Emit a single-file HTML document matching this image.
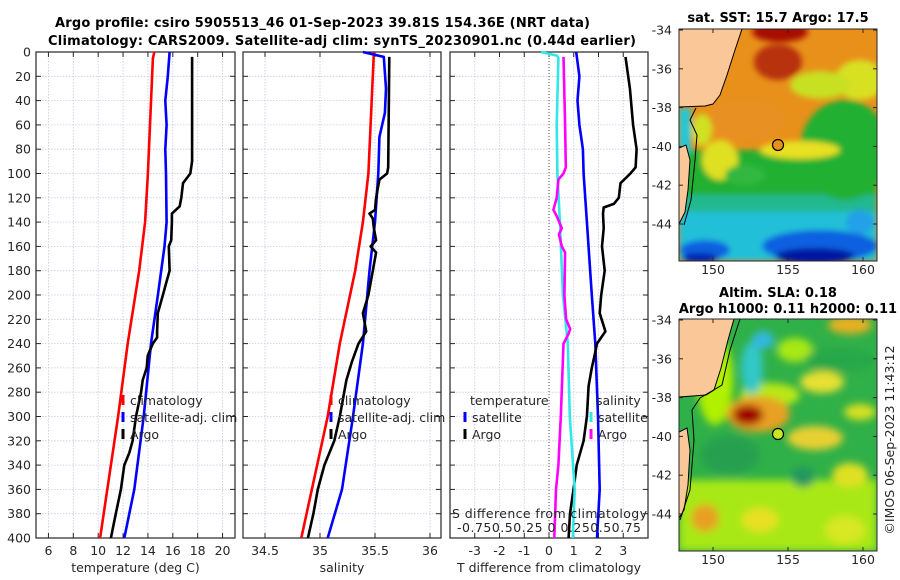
<!DOCTYPE html>
<html><head><meta charset="utf-8">
<style>
html,body{margin:0;padding:0;background:#fff;}
svg{display:block;font-family:"DejaVu Sans","Liberation Sans",sans-serif;}
.tk{font-size:12.5px;fill:#262626;}
.tt{font-size:13px;font-weight:bold;fill:#000;}
</style></head>
<body>
<svg id="fig" width="900" height="580" viewBox="0 0 900 580" xmlns="http://www.w3.org/2000/svg">
<defs>
<filter id="bl" x="-10%" y="-10%" width="120%" height="120%"><feGaussianBlur stdDeviation="3"/></filter>
<filter id="bl2" x="-10%" y="-10%" width="120%" height="120%"><feGaussianBlur stdDeviation="4"/></filter>
<clipPath id="c1"><rect x="679" y="29" width="198" height="232"/></clipPath>
<clipPath id="c2"><rect x="679" y="319" width="198" height="232"/></clipPath>
</defs>
<text class="tt" x="55" y="27" textLength="535">Argo profile: csiro 5905513_46 01-Sep-2023 39.81S 154.36E (NRT data)</text>
<text class="tt" x="48" y="45" textLength="588">Climatology: CARS2009. Satellite-adj clim: synTS_20230901.nc (0.44d earlier)</text>

<!-- SST map -->
<g>
<g clip-path="url(#c1)">
<rect x="679" y="29" width="198" height="232" fill="#e8901a"/>
<g filter="url(#bl)">
<rect x="679" y="150" width="198" height="111" fill="#20b030"/>
<rect x="679" y="195" width="198" height="66" fill="#20b890"/>
<rect x="679" y="212" width="198" height="49" fill="#20c0d8"/>
<ellipse cx="780" cy="32" rx="28" ry="10" fill="#a80800"/>
<ellipse cx="778" cy="62" rx="24" ry="18" fill="#b83010"/>
<ellipse cx="860" cy="80" rx="25" ry="20" fill="#d8e020"/>
<ellipse cx="820" cy="85" rx="30" ry="14" fill="#c8e020"/>
<ellipse cx="845" cy="150" rx="45" ry="50" fill="#20b030"/>
<ellipse cx="800" cy="150" rx="40" ry="9" fill="#e8e020"/>
<ellipse cx="745" cy="120" rx="40" ry="22" fill="#e89020"/>
<ellipse cx="720" cy="160" rx="18" ry="20" fill="#e0e020"/>
<ellipse cx="745" cy="175" rx="20" ry="10" fill="#30b840"/>
<ellipse cx="702" cy="130" rx="10" ry="16" fill="#d0e020"/>
<ellipse cx="820" cy="246" rx="58" ry="16" fill="#1060e0"/>
<ellipse cx="815" cy="256" rx="40" ry="8" fill="#0018a0"/>
<ellipse cx="705" cy="250" rx="25" ry="10" fill="#1060e0"/>
<ellipse cx="700" cy="258" rx="18" ry="5" fill="#0020b0"/>
<ellipse cx="860" cy="222" rx="14" ry="12" fill="#20a0e8"/>
<rect x="679" y="108" width="12" height="45" fill="#20c8d8"/>
</g>
<polygon points="679,29 742,29 735,50 727,75 720,95 713,104 705,106 679,107" fill="#fac898" stroke="#000" stroke-width="1"/>
<polygon points="679,148 686,145 690,160 688,190 685,212 679,224" fill="#fac898" stroke="#000" stroke-width="1"/>
<path d="M696,108 L690,120 L697,135 L695,160 L691,200 L684,225" fill="none" stroke="#000" stroke-width="1"/>
</g>
<rect x="679" y="29" width="198" height="232" fill="none" stroke="#262626" stroke-width="1"/>
<circle cx="778" cy="145" r="5.5" fill="#e8901a" stroke="#000" stroke-width="1.2"/>
<text class="tt" x="778" y="22" text-anchor="middle">sat. SST: 15.7 Argo: 17.5</text>
</g>

<!-- SLA map -->
<g>
<g clip-path="url(#c2)">
<rect x="679" y="319" width="198" height="232" fill="#30b048"/>
<g filter="url(#bl2)">
<rect x="679" y="480" width="198" height="71" fill="#a8e818"/>
<ellipse cx="715" cy="380" rx="18" ry="45" fill="#b0f000"/>
<ellipse cx="770" cy="395" rx="30" ry="12" fill="#b8e818"/>
<ellipse cx="850" cy="325" rx="22" ry="9" fill="#e8b020"/>
<ellipse cx="822" cy="382" rx="22" ry="11" fill="#e8e030"/>
<ellipse cx="815" cy="438" rx="28" ry="12" fill="#e8d030"/>
<ellipse cx="860" cy="412" rx="16" ry="8" fill="#d8e020"/>
<ellipse cx="758" cy="414" rx="32" ry="18" fill="#e8a020"/>
<ellipse cx="748" cy="415" rx="15" ry="10" fill="#a00000"/>
<ellipse cx="752" cy="368" rx="11" ry="26" fill="#30c8c8"/>
<ellipse cx="763" cy="340" rx="11" ry="9" fill="#30b8e0"/>
<ellipse cx="730" cy="455" rx="30" ry="20" fill="#28a050"/>
<ellipse cx="803" cy="477" rx="12" ry="10" fill="#209860"/>
<ellipse cx="705" cy="518" rx="14" ry="14" fill="#e8a020"/>
<ellipse cx="760" cy="520" rx="18" ry="12" fill="#e8e020"/>
<ellipse cx="845" cy="530" rx="20" ry="14" fill="#d8e820"/>
<ellipse cx="850" cy="475" rx="18" ry="12" fill="#e0e020"/>
<ellipse cx="795" cy="350" rx="18" ry="12" fill="#a8e818"/>
<ellipse cx="840" cy="360" rx="35" ry="12" fill="#28a848"/>
</g>
<polygon points="679,319 734,319 728,340 721,368 714,390 706,395 679,397" fill="#fac898" stroke="#000" stroke-width="1"/>
<polygon points="679,432 687,428 690,450 688,485 684,510 679,518" fill="#fac898" stroke="#000" stroke-width="1"/>
<path d="M740,319 L730,350 L722,385 L700,398 L692,410 L694,440 L690,490 L680,520" fill="none" stroke="#000" stroke-width="1"/>
</g>
<rect x="679" y="319" width="198" height="232" fill="none" stroke="#262626" stroke-width="1"/>
<circle cx="778" cy="434" r="5.5" fill="#c8e820" stroke="#000" stroke-width="1.2"/>
<text class="tt" x="778" y="297" text-anchor="middle">Altim. SLA: 0.18</text>
<text class="tt" x="788" y="313" text-anchor="middle">Argo h1000: 0.11 h2000: 0.11</text>
</g>
<text class="tk" transform="translate(894,440) rotate(-90)" text-anchor="middle">©IMOS 06-Sep-2023 11:43:12</text>
<g id="dyn"></g>
</svg>
<script>
// ---- data ----
const depthTicks = [0,20,40,60,80,100,120,140,160,180,200,220,240,260,280,300,320,340,360,380,400];
const tempTicks = [6,8,10,12,14,16,18,20];
const salTicks = [34.5,35,35.5,36];
const tdiffTicks = [-3,-2,-1,0,1,2,3];
const latTicks = [-34,-36,-38,-40,-42,-44];
const lonTicks = [150,155,160];

const tClimDepth = [0,5,100,140,180,240,300,400];
const tClimVal = [14.52,14.4,14.0,13.77,13.3,12.37,11.6,10.15];
const tSatDepth = [0,20,40,60,80,100,140,160,200,240,300,360,400];
const tSatVal = [15.74,15.6,15.4,15.5,15.4,15.45,15.5,15.33,14.8,14.25,13.66,12.9,12.1];
const tArgoDepth = [4,90,100,108,120,127,133,140,155,160,180,190,200,215,230,235,240,250,260,270,280,300,320,330,340,360,380,400];
const tArgoVal = [17.55,17.55,17.41,16.82,16.68,16.55,15.93,15.93,15.87,15.68,15.74,15.47,15.2,14.79,14.74,14.74,14.39,13.98,13.9,13.58,13.45,13.04,12.77,12.5,12.1,11.83,11.42,11.02];

const sClimDepth = [0,20,100,140,180,240,300,400];
const sClimVal = [35.49,35.48,35.44,35.39,35.32,35.18,35.07,34.83];
const sSatDepth = [0,4,30,50,70,100,140,180,240,300,360,400];
const sSatVal = [35.39,35.58,35.60,35.59,35.54,35.53,35.50,35.45,35.39,35.30,35.20,35.07];
const sArgoDepth = [4,95,100,105,120,130,133,137,145,155,160,165,180,200,215,230,240,255,270,300,320,340,360,380,400];
const sArgoVal = [35.63,35.62,35.61,35.54,35.51,35.50,35.45,35.48,35.49,35.51,35.46,35.51,35.48,35.44,35.39,35.42,35.35,35.29,35.24,35.18,35.13,35.04,34.98,34.94,34.89];

const dTSatDepth = [0,20,40,60,80,100,140,200,240,300,360,400];
const dTSatVal = [1.10,1.23,1.15,1.23,1.37,1.40,1.53,1.73,1.87,1.98,2.05,1.94];
const dTArgoDepth = [4,30,60,80,95,100,108,120,125,128,133,145,160,180,200,215,230,240,250,260,275,300,320,340,360,380,400];
const dTArgoVal = [3.09,3.27,3.40,3.54,3.50,3.29,2.89,2.82,2.62,2.21,2.18,2.21,2.14,2.25,2.11,2.05,2.28,1.94,1.84,1.73,1.60,1.53,1.40,1.12,0.99,0.85,0.79];
const dSSatDepth = [0,3,5,60,100,140,200,240,300,360,400];
const dSSatVal = [-0.08,0.08,0.095,0.078,0.085,0.11,0.14,0.19,0.21,0.26,0.24];
const dSArgoDepth = [4,60,95,100,105,120,130,135,145,150,160,165,200,220,228,232,240,300,340,360,400];
const dSArgoVal = [0.146,0.163,0.17,0.146,0.095,0.078,0.044,0.078,0.129,0.10,0.129,0.163,0.156,0.173,0.214,0.197,0.146,0.119,0.095,0.071,0.054];

// ---- layout ----
const NS = 'http://www.w3.org/2000/svg';
const root = document.getElementById('dyn');
const TOP = 52, BOT = 538;
const yD = d => TOP + d * (BOT - TOP) / 400;
function lin(d0, d1, r0, r1) { return v => r0 + (v - d0) * (r1 - r0) / (d1 - d0); }
function mk(tag, attrs, parent) {
  const e = document.createElementNS(NS, tag);
  for (const k in attrs) e.setAttribute(k, attrs[k]);
  (parent || root).appendChild(e);
  return e;
}
function panel(name, L, R, xf, xt, xfmt, xlabel) {
  const g = mk('g', {});
  
  
  depthTicks.forEach(d => {
    mk('line', {x1: L, x2: R, y1: yD(d), y2: yD(d), stroke: '#c4cbe6', 'stroke-width': 0.8, 'stroke-dasharray': '1.5,1.5'}, g);
    mk('line', {x1: L, x2: L + 5, y1: yD(d), y2: yD(d), stroke: '#262626'}, g);
    mk('line', {x1: R - 5, x2: R, y1: yD(d), y2: yD(d), stroke: '#262626'}, g);
  });
  xt.forEach(v => {
    const x = xf(v);
    mk('line', {x1: x, x2: x, y1: TOP, y2: BOT, stroke: '#c4cbe6', 'stroke-width': 0.8, 'stroke-dasharray': '1.5,1.5'}, g);
    mk('line', {x1: x, x2: x, y1: TOP, y2: TOP + 5, stroke: '#262626'}, g);
    mk('line', {x1: x, x2: x, y1: BOT - 5, y2: BOT, stroke: '#262626'}, g);
    const t = mk('text', {x: x, y: 555, 'text-anchor': 'middle', class: 'tk'}, g);
    t.textContent = xfmt(v);
  });
  mk('rect', {x: L, y: TOP, width: R - L, height: BOT - TOP, fill: 'none', stroke: '#262626', 'stroke-width': 1.2}, g);
  const xl = mk('text', {x: (L + R) / 2, y: 572, 'text-anchor': 'middle', class: 'tk'}, g);
  xl.textContent = xlabel;
  return g;
}
function series(g, name, depths, vals, xf, color) {
  const pts = depths.map((d, i) => xf(vals[i]).toFixed(1) + ',' + yD(d).toFixed(1)).join(' ');
  const p = mk('polyline', {points: pts, fill: 'none', stroke: color, 'stroke-width': 2.6, 'stroke-linejoin': 'round'}, g);
  
  
}
function legendEntry(g, name, x, y, color, label) {
  const e = mk('g', {}, g);
  
  
  mk('line', {x1: x, x2: x, y1: y - 10, y2: y, stroke: color, 'stroke-width': 3}, e);
  const t = mk('text', {x: x + 7, y: y, class: 'tk', 'font-size': '13px'}, e);
  t.textContent = label;
}

// y labels
depthTicks.forEach(d => {
  const t = mk('text', {x: 31, y: yD(d) + 4.5, 'text-anchor': 'end', class: 'tk'});
  
  
  t.textContent = d;
});

// panel 1
const xT = lin(5, 21, 36, 235);
const p1 = panel('temperature-panel', 36, 235, xT, tempTicks, v => String(v), 'temperature (deg C)');
series(p1, 'temperature-climatology-line', tClimDepth, tClimVal, xT, '#ff0000');
series(p1, 'temperature-satellite-line', tSatDepth, tSatVal, xT, '#0000ff');
series(p1, 'temperature-argo-line', tArgoDepth, tArgoVal, xT, '#000000');
legendEntry(p1, 'legend-climatology', 123, 405, '#ff0000', 'climatology');
legendEntry(p1, 'legend-satellite-adj', 123, 422, '#0000ff', 'satellite-adj. clim');
legendEntry(p1, 'legend-argo', 123, 439, '#000000', 'Argo');

// panel 2
const xS = lin(34.3, 36.1, 243, 441);
const p2 = panel('salinity-panel', 243, 441, xS, salTicks, v => String(v), 'salinity');
series(p2, 'salinity-climatology-line', sClimDepth, sClimVal, xS, '#ff0000');
series(p2, 'salinity-satellite-line', sSatDepth, sSatVal, xS, '#0000ff');
series(p2, 'salinity-argo-line', sArgoDepth, sArgoVal, xS, '#000000');
legendEntry(p2, 'legend-climatology', 331, 405, '#ff0000', 'climatology');
legendEntry(p2, 'legend-satellite-adj', 331, 422, '#0000ff', 'satellite-adj. clim');
legendEntry(p2, 'legend-argo', 331, 439, '#000000', 'Argo');

// panel 3
const xDT = lin(-4, 4, 450, 648);
const xDS = lin(-1, 1, 450, 648);
const p3 = panel('difference-panel', 450, 648, xDT, tdiffTicks, v => String(v), 'T difference from climatology');
mk('line', {x1: xDT(0), x2: xDT(0), y1: TOP, y2: BOT, stroke: '#555', 'stroke-width': 1, 'stroke-dasharray': '1,2'}, p3);
series(p3, 'tdiff-satellite-line', dTSatDepth, dTSatVal, xDT, '#0000ff');
series(p3, 'tdiff-argo-line', dTArgoDepth, dTArgoVal, xDT, '#000000');
series(p3, 'sdiff-satellite-line', dSSatDepth, dSSatVal, xDS, '#30e8e8');
series(p3, 'sdiff-argo-line', dSArgoDepth, dSArgoVal, xDS, '#ff00ff');
const lt = mk('text', {x: 470, y: 405, class: 'tk', 'font-size': '13px'}, p3); lt.textContent = 'temperature';
const ls = mk('text', {x: 596, y: 405, class: 'tk', 'font-size': '13px'}, p3); ls.textContent = 'salinity';
legendEntry(p3, 'legend-t-satellite', 465, 422, '#0000ff', 'satellite');
legendEntry(p3, 'legend-t-argo', 465, 439, '#000000', 'Argo');
legendEntry(p3, 'legend-s-satellite', 591, 422, '#30e8e8', 'satellite');
legendEntry(p3, 'legend-s-argo', 591, 439, '#ff00ff', 'Argo');
const sa = mk('text', {x: 452, y: 518, class: 'tk', 'font-size': '13px', textLength: 195}, p3);


sa.textContent = 'S difference from climatology';
const sl = mk('text', {x: 457, y: 532, class: 'tk', 'font-size': '13px', textLength: 184}, p3);


sl.textContent = '-0.750.50.25 0 0.250.50.75';

// map axes
function mapAxes(name, top, bottom) {
  const g = mk('g', {});
  
  
  const yl = lin(-34, -44, top + 1, top + 195);
  latTicks.forEach(v => {
    mk('line', {x1: 679, x2: 683, y1: yl(v), y2: yl(v), stroke: '#262626'}, g);
    mk('line', {x1: 873, x2: 877, y1: yl(v), y2: yl(v), stroke: '#262626'}, g);
    const t = mk('text', {x: 672, y: yl(v) + 4.5, 'text-anchor': 'end', class: 'tk'}, g);
    t.textContent = v;
  });
  const xl = lin(150, 160, 713, 863);
  lonTicks.forEach(v => {
    mk('line', {x1: xl(v), x2: xl(v), y1: bottom - 4, y2: bottom, stroke: '#262626'}, g);
    mk('line', {x1: xl(v), x2: xl(v), y1: top, y2: top + 4, stroke: '#262626'}, g);
    const t = mk('text', {x: xl(v), y: bottom + 13, 'text-anchor': 'middle', class: 'tk'}, g);
    t.textContent = v;
  });
}
mapAxes('sst-map-axes', 29, 261);
mapAxes('sla-map-axes', 319, 551);
</script>
</body></html>
